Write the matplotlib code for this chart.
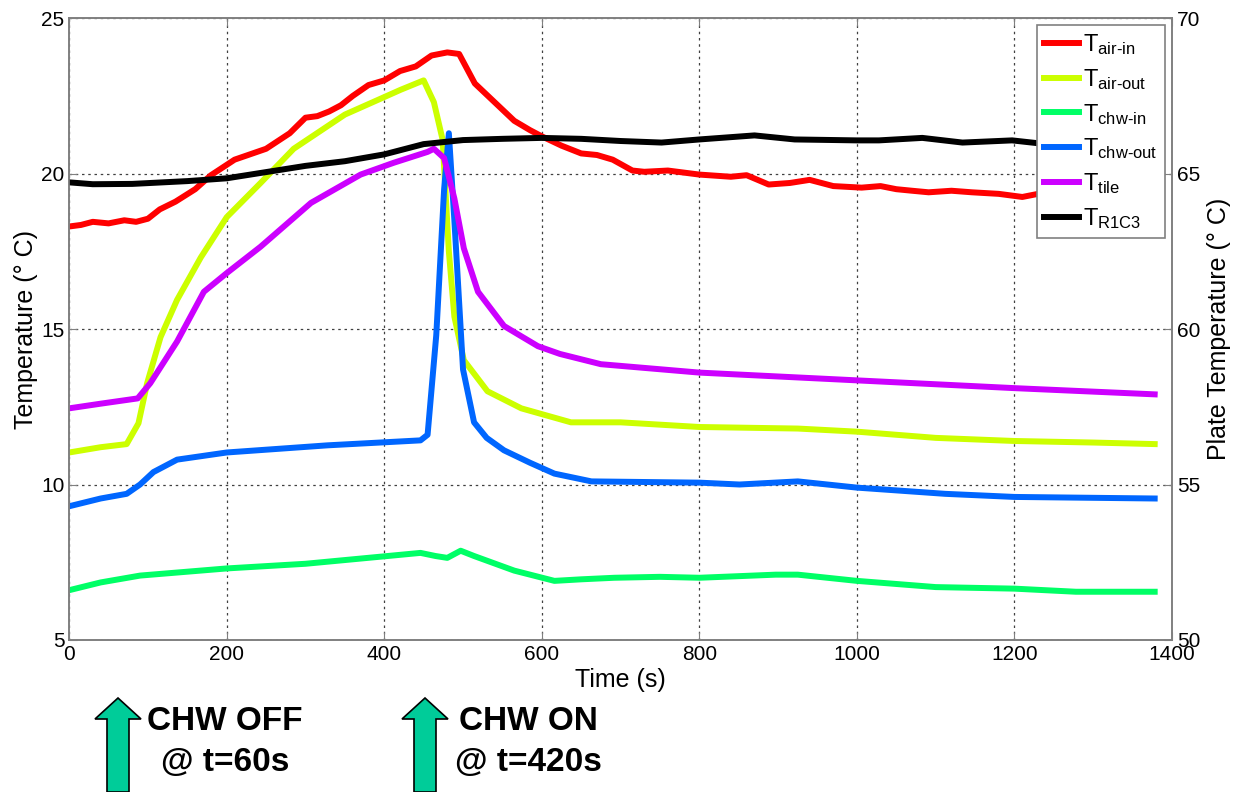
import numpy as np
import matplotlib
matplotlib.use("Agg")
import matplotlib.pyplot as plt
from matplotlib.patches import Polygon

plt.rcParams["font.family"] = ["Liberation Sans", "DejaVu Sans"]
plt.rcParams["mathtext.fontset"] = "custom"
plt.rcParams["mathtext.rm"] = "Liberation Sans"
plt.rcParams["mathtext.it"] = "Liberation Sans:italic"
plt.rcParams["mathtext.bf"] = "Liberation Sans:bold"

# ==============================
# Data
# ==============================
t_air_in = [0, 15, 30, 50, 70, 85, 100, 115, 135, 160, 180, 210, 250, 280, 300, 315, 330, 345,
            360, 380, 400, 420, 440, 460, 480, 495, 515, 540, 565, 585, 600, 625, 650, 670,
            690, 715, 730, 760, 800, 840, 860, 888, 915, 940, 970, 1006, 1030, 1050, 1070, 1091,
            1120, 1146, 1180, 1210, 1240, 1300, 1378]
air_in = [18.3, 18.35, 18.45, 18.4, 18.5, 18.45, 18.55, 18.85, 19.1, 19.5, 19.95, 20.45, 20.8,
          21.3, 21.8, 21.85, 22.0, 22.2, 22.5, 22.85, 23.0, 23.3, 23.45, 23.8, 23.9, 23.85, 22.9,
          22.3, 21.7, 21.4, 21.2, 20.9, 20.65, 20.6, 20.45, 20.1, 20.06, 20.1, 19.97, 19.9, 19.95,
          19.65, 19.7, 19.8, 19.6, 19.55, 19.6, 19.5, 19.45, 19.4, 19.45, 19.4, 19.35, 19.25,
          19.4, 19.3, 19.2]

t_air_out = [0, 40, 73, 88, 99, 116, 137, 167, 200, 243, 285, 350, 421, 450, 463, 474, 482, 489,
             501, 531, 574, 637, 700, 800, 925, 1000, 1100, 1200, 1300, 1378]
air_out = [11.03, 11.2, 11.3, 11.97, 13.26, 14.74, 15.94, 17.3, 18.6, 19.7, 20.8, 21.9, 22.7, 23.0,
           22.3, 21.1, 17.5, 15.4, 14.0, 13.0, 12.45, 12.0, 12.0, 11.85, 11.8, 11.7, 11.5, 11.4,
           11.35, 11.3]

t_chw_in = [0, 40, 90, 200, 300, 396, 446, 465, 480, 497, 514, 565, 616, 650, 692, 750, 800, 897,
            925, 1000, 1100, 1200, 1278, 1378]
chw_in = [6.6, 6.85, 7.07, 7.3, 7.45, 7.68, 7.8, 7.7, 7.64, 7.87, 7.7, 7.23, 6.9, 6.95, 7.0, 7.03,
          7.0, 7.1, 7.1, 6.9, 6.7, 6.65, 6.55, 6.55]

t_chw_out = [0, 40, 73, 90, 107, 137, 200, 328, 446, 455, 466, 476, 482, 489, 500, 514, 530, 552,
             585, 616, 663, 800, 851, 925, 1000, 1112, 1200, 1378]
chw_out = [9.3, 9.55, 9.7, 10.0, 10.4, 10.8, 11.03, 11.26, 11.42, 11.6, 14.8, 19.5, 21.3, 18.5,
           13.7, 12.0, 11.5, 11.1, 10.7, 10.35, 10.1, 10.06, 10.0, 10.1, 9.9, 9.7, 9.6, 9.55]

t_tile = [0, 40, 87, 103, 137, 171, 200, 243, 307, 370, 412, 455, 463, 476, 489, 501, 519, 552,
          595, 623, 675, 800, 1000, 1200, 1378]
tile = [12.45, 12.6, 12.77, 13.26, 14.6, 16.2, 16.8, 17.65, 19.06, 19.97, 20.35, 20.7, 20.8, 20.5,
        19.2, 17.6, 16.2, 15.1, 14.45, 14.2, 13.87, 13.6, 13.35, 13.1, 12.9]

# plate temperature, right axis
t_r1c3 = [0, 30, 80, 150, 200, 250, 300, 350, 400, 450, 500, 550, 600, 650, 700, 752, 800, 870,
          921, 1000, 1028, 1083, 1134, 1197, 1240, 1300, 1378]
r1c3 = [64.72, 64.66, 64.67, 64.76, 64.85, 65.05, 65.25, 65.4, 65.62, 65.95, 66.08, 66.12, 66.15,
        66.12, 66.05, 66.0, 66.1, 66.23, 66.1, 66.07, 66.07, 66.15, 66.0, 66.07, 65.95, 65.9, 65.9]

labels = [r"T$_{\mathregular{air‐in}}$", r"T$_{\mathregular{air‐out}}$",
          r"T$_{\mathregular{chw‐in}}$", r"T$_{\mathregular{chw‐out}}$",
          r"T$_{\mathregular{tile}}$", r"T$_{\mathregular{R1C3}}$"]
colors = ["#ff0000", "#ccff00", "#00ff66", "#0066ff", "#cc00ff", "#000000"]

# ==============================
# Plot
# ==============================
fig = plt.figure(figsize=(12.35, 7.92), dpi=100)
ax = fig.add_axes([0.056, 0.192, 0.893, 0.785])
ax2 = ax.twinx()

lw = 4.3
handles = []
series = [(t_air_in, air_in), (t_air_out, air_out), (t_chw_in, chw_in),
          (t_chw_out, chw_out), (t_tile, tile)]
for (tx, ty), c, lab in zip(series, colors[:5], labels[:5]):
    h, = ax.plot(tx, ty, color=c, lw=lw, label=lab, solid_joinstyle="round")
    handles.append(h)
h, = ax2.plot(t_r1c3, r1c3, color=colors[5], lw=lw, label=labels[5])
handles.append(h)

ax.set_xlim(0, 1400)
ax.set_ylim(5, 25)
ax2.set_ylim(50, 70)
ax.set_xticks(np.arange(0, 1401, 200))
ax.set_yticks(np.arange(5, 26, 5))
ax2.set_yticks(np.arange(50, 71, 5))

ax.grid(True, color="#404040", linestyle=(0, (2, 3)), linewidth=0.9)

for a in (ax, ax2):
    for s in a.spines.values():
        s.set_color("#808080")
        s.set_linewidth(1.2)
    a.tick_params(direction="in", length=6, labelsize=15, color="#808080")
ax.tick_params(top=True)

ax.set_xlabel("Time (s)", fontsize=18, labelpad=3)
ax.set_ylabel("Temperature (° C)", fontsize=18, labelpad=2)
ax2.set_ylabel("Plate Temperature (° C)", fontsize=18, labelpad=5)

leg = ax2.legend(handles=handles, loc="upper right", fontsize=17, handlelength=1.45,
                 handletextpad=0.2, labelspacing=0.42, borderpad=0.3, borderaxespad=0,
                 fancybox=False, framealpha=1, edgecolor="#808080",
                 bbox_to_anchor=(1165 / 1235, 1 - 25 / 792),
                 bbox_transform=fig.transFigure)
leg.get_frame().set_linewidth(1.2)

# ==============================
# Arrows and notes below the axes
# ==============================
W, H = 1235, 792
def up_arrow(xc):
    pts = [(xc - 11, 0), (xc - 11, 73), (xc - 23, 73), (xc, 94), (xc + 23, 73),
           (xc + 11, 73), (xc + 11, 0)]
    pts = [(x / W, y / H) for x, y in pts]
    fig.patches.append(Polygon(pts, closed=True, facecolor="#00cc99", edgecolor="black",
                               lw=1.2, transform=fig.transFigure))

up_arrow(118)
up_arrow(425)
fig.text(225 / W, 50 / H, "CHW OFF\n@ t=60s", ha="center", va="center", fontsize=24,
         fontweight="bold", linespacing=1.4)
fig.text(528 / W, 50 / H, "CHW ON\n@ t=420s", ha="center", va="center", fontsize=24,
         fontweight="bold", linespacing=1.4)

plt.savefig("out.png")
